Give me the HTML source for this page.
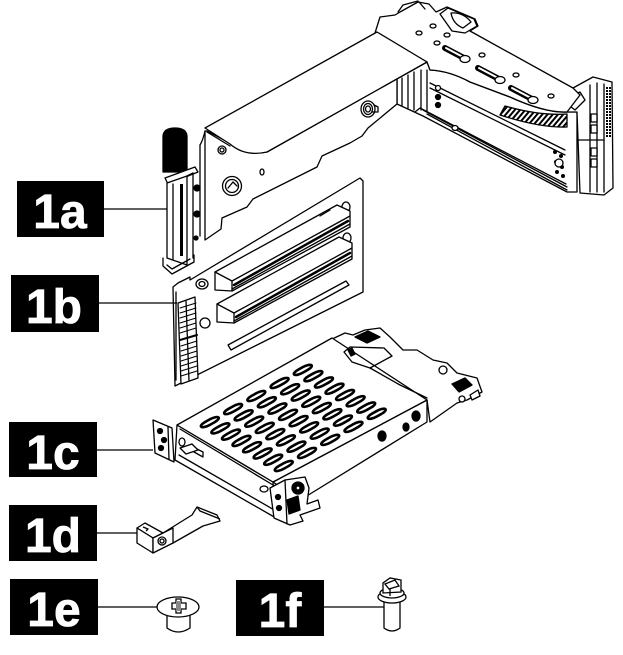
<!DOCTYPE html>
<html><head><meta charset="utf-8">
<style>
html,body{margin:0;padding:0;background:#fff;width:623px;height:655px;overflow:hidden;}
svg{display:block}
.lbl{font-family:"Liberation Sans",sans-serif;font-weight:bold;font-size:48px;fill:#fff;stroke:#fff;stroke-width:0.8px;}
</style></head><body>
<svg width="623" height="655" viewBox="0 0 623 655" xmlns="http://www.w3.org/2000/svg">
<defs>
<pattern id="hatch" width="4" height="4" patternUnits="userSpaceOnUse" patternTransform="rotate(40)">
<rect width="2" height="4" fill="#000"/>
</pattern>
<pattern id="dots" width="3" height="3" patternUnits="userSpaceOnUse">
<rect width="2" height="2" fill="#000"/>
</pattern>
</defs>

<!-- ================= RISER CAGE (1a) ================= -->
<g stroke="#000" stroke-width="1.3" fill="#fff" stroke-linejoin="round" stroke-linecap="round">
  <path d="M397,78 L427,62 L430,70 Q450,71 470,82 L510,97 Q545,113 567,112 L577,112 L577,192 L567,192 L423,116 L397,104 Z"/>
  <line x1="423" y1="110" x2="567" y2="187"/>
  <line x1="427" y1="114" x2="567" y2="190"/>
  <line x1="430" y1="83" x2="565" y2="150"/>
  <line x1="430" y1="88" x2="565" y2="155"/>
  <path d="M415,112 L420,108 L566,184" fill="none"/>
  <path d="M505,106 Q540,116 567,114 L567,127 Q540,128 500,115 Z" fill="url(#hatch)"/>
  <ellipse cx="455" cy="128" rx="3" ry="2.5"/>
  <line x1="402" y1="78" x2="402" y2="106"/>
  <line x1="408" y1="75" x2="408" y2="108"/>
  <line x1="414" y1="72" x2="414" y2="110"/>
  <line x1="421" y1="70" x2="421" y2="110"/>
  <line x1="427" y1="70" x2="427" y2="112"/>
  <circle cx="438" cy="88" r="2.5"/>
  <circle cx="438" cy="97" r="2.5" fill="#000"/>
  <circle cx="438" cy="105" r="2.5" fill="#000"/>

  <!-- right end bracket -->
  <path d="M560,95 L573,88 L593,77 L612,82 L613,188 L604,195 L580,193 L577,112 L566,112 Z"/>
  <line x1="590" y1="85" x2="590" y2="192"/>
  <line x1="597" y1="83" x2="597" y2="192"/>
  <line x1="604" y1="84" x2="604" y2="192"/>
  <rect x="605" y="86" width="7" height="52" fill="url(#dots)" stroke="none"/>
  <rect x="591" y="114" width="6" height="8" fill="#fff"/>
  <rect x="591" y="125" width="6" height="8" fill="#fff"/>
  <rect x="591" y="148" width="6" height="8" fill="#fff"/>
  <rect x="591" y="159" width="6" height="8" fill="#fff"/>
  <line x1="577" y1="140" x2="604" y2="140"/>
  <path d="M562,100 L580,92 L585,100 L575,110 Z"/>
  <g fill="#000" stroke="none">
    <circle cx="555" cy="152" r="2"/><circle cx="561" cy="156" r="2"/><circle cx="556" cy="162" r="2"/>
    <circle cx="562" cy="167" r="2"/><circle cx="557" cy="172" r="2"/><circle cx="563" cy="176" r="2"/>
  </g>
  <circle cx="559" cy="163" r="4" fill="#fff"/>

  <!-- left vertical panel -->
  <path d="M205,131 L205,240 L221,229 L222,218 L247,207 L253,199 L317,167 L322,156 L350,143 L362,136 L368,128 L397,104 L397,78 L427,62 L267,152 Q243,156 230,143 L207,131 Z"/>
  <line x1="200" y1="145" x2="200" y2="236"/>
  <path d="M200,145 Q203,140 205,131" fill="none"/>
  <ellipse cx="368" cy="109" rx="7" ry="8"/>
  <ellipse cx="368" cy="109" rx="4.5" ry="5.5"/>
  <ellipse cx="368" cy="109" rx="2.5" ry="3"/>
  <path d="M372,112 L378,112 L378,107 L374,105" fill="none"/>
  <circle cx="232" cy="186" r="9.5"/>
  <circle cx="232" cy="186" r="6.5"/>
  <path d="M228,188 L233,182 L237,186" fill="none"/>
  <ellipse cx="262" cy="172" rx="2" ry="3"/>
  <circle cx="222" cy="150" r="4"/>
  <circle cx="222" cy="150" r="2"/>

  <!-- T plate -->
  <path d="M375,33 L380,17 L395,15 L400,12 L418,2 L429,4 L436,12 L447,7 L475,19 L478,26 L470,31 L573,88 L580,95 L567,112 Q545,113 510,97 L470,82 Q450,71 430,70 L427,62 Z"/>
  <path d="M398,12 L403,5 L418,1" fill="none"/>
  <path d="M419,2 L425,9" fill="none"/>
  <path d="M440,14 L448,8 L474,19 L477,26 L465,33 L452,31 Z"/>
  <path d="M451,13 Q463,12 471,22 L463,28 Q453,24 451,13 Z"/>
  <g fill="none">
    <line x1="445" y1="48" x2="464" y2="58" stroke-width="6"/>
    <line x1="446" y1="48" x2="463" y2="57" stroke="#fff" stroke-width="2"/>
    <line x1="478" y1="68" x2="499" y2="79" stroke-width="6"/>
    <line x1="479" y1="68" x2="498" y2="78" stroke="#fff" stroke-width="2"/>
    <line x1="511" y1="88" x2="532" y2="99" stroke-width="6"/>
    <line x1="512" y1="88" x2="531" y2="98" stroke="#fff" stroke-width="2"/>
  </g>
  <ellipse cx="465" cy="59" rx="5" ry="3.5"/>
  <ellipse cx="500" cy="80" rx="5" ry="3.5"/>
  <ellipse cx="533" cy="100" rx="5" ry="3.5"/>
  <ellipse cx="419" cy="33" rx="3" ry="2"/>
  <ellipse cx="433" cy="26" rx="3" ry="2"/>
  <ellipse cx="447" cy="35" rx="3" ry="2"/>
  <ellipse cx="437" cy="43" rx="3" ry="2"/>
  <ellipse cx="482" cy="55" rx="3" ry="2"/>
  <ellipse cx="516" cy="75" rx="3" ry="2"/>
  <ellipse cx="551" cy="96" rx="3" ry="2"/>

  <!-- long top plate -->
  <path d="M205,128 L377,32 L427,62 L267,152 Q245,157 230,144 Z"/>
  <path d="M207,132 L230,146" fill="none"/>

  <!-- handle -->
  <path d="M163,172 L163,137 Q163,128 175,128 Q187,128 187,137 L187,172 Z" fill="#000"/>
  <path d="M165,178 L195,167 L198,172 L168,184 Z"/>
  <path d="M167,183 L167,258 L187,265 L187,176 Z"/>
  <line x1="173" y1="184" x2="173" y2="259"/>
  <rect x="180" y="184" width="3" height="72" fill="#000" stroke="none"/>
  <line x1="187" y1="176" x2="193" y2="173"/>
  <line x1="193" y1="173" x2="193" y2="258"/>
  <circle cx="197" cy="188" r="3" fill="#000"/>
  <circle cx="197" cy="214" r="3" fill="#000"/>
  <circle cx="196" cy="238" r="2" fill="#000"/>
  <path d="M163,258 L163,266 L172,274 L194,262 L194,255" fill="none"/>
  <path d="M167,265 L172,269 L190,259" fill="none"/>
</g>

<!-- ================= RISER CARD (1b) ================= -->
<g stroke="#000" stroke-width="1.3" fill="#fff" stroke-linejoin="round" stroke-linecap="round">
  <path d="M173,287 L178,283 L190,277 L190,280 L360,178 L363,181 L363,292 L175,386 Z"/>
  <path d="M176,292 L176,380" fill="none"/>
  <ellipse cx="202" cy="284" rx="6" ry="5"/>
  <ellipse cx="202" cy="284" rx="3" ry="2.5"/>
  <ellipse cx="205" cy="323" rx="5" ry="5"/>
  <ellipse cx="346" cy="207" rx="4" ry="5"/>
  <ellipse cx="347" cy="238" rx="4" ry="5"/>
  <path d="M215,272 L337,205 L350,211 L350,227 L232,291 L215,290 Z"/>
  <path d="M215,272 L232,281 L232,291" fill="none"/>
  <line x1="232" y1="281" x2="350" y2="216"/>
  <line x1="234" y1="285" x2="348" y2="221" stroke-width="2.5"/>
  <line x1="232" y1="289" x2="350" y2="224"/>
  <line x1="320" y1="216" x2="330" y2="210"/>
  <path d="M217,304 L339,237 L352,243 L352,259 L234,323 L217,322 Z"/>
  <path d="M217,304 L234,313 L234,323" fill="none"/>
  <line x1="234" y1="313" x2="352" y2="248"/>
  <line x1="236" y1="317" x2="350" y2="253" stroke-width="2.5"/>
  <line x1="234" y1="321" x2="352" y2="256"/>
  <path d="M228,345 L346,281 L349,285 L231,350 Z"/>
  <path d="M178,303 L195,297 L198,378 L181,384 Z"/>
  <line x1="186" y1="301" x2="189" y2="381"/>
  <g stroke-width="1">
    <line x1="180" y1="308" x2="196" y2="303"/><line x1="180" y1="313" x2="196" y2="308"/>
    <line x1="180" y1="318" x2="196" y2="313"/><line x1="180" y1="323" x2="196" y2="318"/>
    <line x1="180" y1="328" x2="196" y2="323"/><line x1="180" y1="333" x2="196" y2="328"/>
    <line x1="180" y1="340" x2="197" y2="335" stroke-width="2"/>
    <line x1="181" y1="346" x2="197" y2="341"/><line x1="181" y1="351" x2="197" y2="346"/>
    <line x1="181" y1="356" x2="197" y2="351"/><line x1="181" y1="361" x2="197" y2="356"/>
    <line x1="181" y1="366" x2="197" y2="361"/><line x1="181" y1="371" x2="197" y2="366"/>
    <line x1="181" y1="376" x2="197" y2="371"/>
  </g>
</g>

<!-- ================= DRIVE CAGE (1c) ================= -->
<g stroke="#000" stroke-width="1.3" fill="#fff" stroke-linejoin="round" stroke-linecap="round">
  <path d="M330,340 L345,333 L353,335 L365,330 L380,328 L390,337 L403,350 L417,350 L433,360 L447,363 L457,373 L477,378 L482,392 L467,400 L457,403 L430,422 L427,400 Z"/>
  <path d="M355,337 L368,331 L380,337 L367,343 Z" fill="#000"/>
  <circle cx="443" cy="370" r="4"/>
  <path d="M452,384 L465,378 L472,385 L459,392 Z" fill="#000"/>
  <circle cx="462" cy="399" r="3"/>
  <path d="M470,395 L478,390 L480,396 L472,400 Z"/>
  <path d="M273,482 L427,400 L427,422 L310,494 L300,500 Z"/>
  <ellipse cx="382" cy="436" rx="4" ry="5" fill="#000"/>
  <ellipse cx="406" cy="427" rx="3" ry="4" fill="#000"/>
  <ellipse cx="416" cy="416" rx="4" ry="5" fill="#000"/>
  <path d="M177,425 L273,482 L276,518 L175,460 Z"/>
  <line x1="179" y1="455" x2="276" y2="511"/>
  <ellipse cx="182" cy="442" rx="3" ry="4"/>
  <ellipse cx="264" cy="489" rx="4" ry="3"/>
  <path d="M193,447 L203,452 L203,457 L194,452 Z"/>
  <path d="M177,425 L332,338 L427,400 L273,482 Z"/>
  <line x1="180" y1="429" x2="273" y2="485"/>
  <!-- recessed box near back -->
  <path d="M344,352 L350,347 L384,348 L392,356 L370,368 L352,362 Z" fill="none"/>
  <path d="M370,368 L400,385 L427,398" fill="none"/>
  <path d="M348,350 L352,348 L355,354 L351,356 Z" fill="#000"/>
  <g transform="matrix(0.96,0.57,1.55,-0.87,177,425)" fill="#fff" stroke="#000">
    <g id="row">
      <rect x="11.5" y="7" width="5" height="11" rx="2.5" ry="4" stroke-width="2.6" vector-effect="non-scaling-stroke"/>
      <rect x="22.5" y="7" width="5" height="11" rx="2.5" ry="4" stroke-width="2.6" vector-effect="non-scaling-stroke"/>
      <rect x="33.5" y="7" width="5" height="11" rx="2.5" ry="4" stroke-width="2.6" vector-effect="non-scaling-stroke"/>
      <rect x="44.5" y="7" width="5" height="11" rx="2.5" ry="4" stroke-width="2.6" vector-effect="non-scaling-stroke"/>
      <rect x="55.5" y="7" width="5" height="11" rx="2.5" ry="4" stroke-width="2.6" vector-effect="non-scaling-stroke"/>
      <rect x="66.5" y="7" width="5" height="11" rx="2.5" ry="4" stroke-width="2.6" vector-effect="non-scaling-stroke"/>
      <rect x="77.5" y="7" width="5" height="11" rx="2.5" ry="4" stroke-width="2.6" vector-effect="non-scaling-stroke"/>
      <rect x="88.5" y="7" width="5" height="11" rx="2.5" ry="4" stroke-width="2.6" vector-effect="non-scaling-stroke"/>
    </g>
    <use href="#row" transform="translate(0,15)"/>
    <use href="#row" transform="translate(0,30)"/>
    <use href="#row" transform="translate(0,45)"/>
    <use href="#row" transform="translate(0,60)"/>
  </g>
  <path d="M153,420 L172,428 L174,462 L155,453 Z"/>
  <line x1="168" y1="427" x2="169" y2="459"/>
  <circle cx="160" cy="431" r="2.5" fill="#000"/>
  <circle cx="164" cy="440" r="2.5" fill="#000"/>
  <circle cx="161" cy="448" r="2.5" fill="#000"/>
  <path d="M180,448 L192,444 L198,450 L186,454 Z"/>
  <path d="M270,488 L285,480 L305,477 L309,488 L307,504 L318,500 L320,508 L300,515 L303,521 L290,525 L274,518 Z"/>
  <line x1="285" y1="480" x2="287" y2="524"/>
  <circle cx="298" cy="488" r="6" fill="#000"/>
  <circle cx="298" cy="488" r="2" fill="#fff"/>
  <circle cx="278" cy="497" r="2.5" fill="#000"/>
  <circle cx="279" cy="508" r="2.5" fill="#000"/>
  <path d="M287,500 L298,496 L300,510 L289,514 Z" fill="#000"/>
</g>

<!-- ================= CLIP (1d) ================= -->
<g stroke="#000" stroke-width="1.3" fill="#fff" stroke-linejoin="round">
  <path d="M163,533 L192,515 L197,507 L217,515 L220,521 L203,526 L173,543 Z"/>
  <path d="M197,507 L200,511 L220,519" fill="none"/>
  <path d="M137,528 L145,523 L163,533 L153,538 Z"/>
  <path d="M143,527 L148,529 L146,531" fill="none"/>
  <path d="M137,528 L137,543 L153,553 L153,538 Z"/>
  <path d="M153,538 L173,528 L173,543 L153,553 Z"/>
  <circle cx="162" cy="541" r="4"/>
  <circle cx="162" cy="541" r="2"/>
</g>

<!-- ================= SCREW (1e) ================= -->
<g stroke="#000" stroke-width="1.3" fill="#fff">
  <path d="M167,612 L167,628 Q178,636 190,628 L190,612 Z"/>
  <ellipse cx="178" cy="607" rx="21" ry="10"/>
  <path d="M172,603 L176,603 L176,599 L181,599 L181,603 L186,603 L186,609 L181,609 L181,613 L176,613 L176,609 L172,609 Z"/>
  <rect x="176" y="601" width="5" height="10" fill="#888" stroke="none"/>
</g>

<!-- ================= SCREW (1f) ================= -->
<g stroke="#000" stroke-width="1.3" fill="#fff">
  <path d="M384,600 L384,628 Q392,634 400,628 L400,600 Z"/>
  <ellipse cx="392" cy="597" rx="14" ry="6"/>
  <ellipse cx="392" cy="593" rx="12" ry="5"/>
  <path d="M383,593 L383,583 L390,578 L401,580 L401,592 Z"/>
  <path d="M385,584 L395,580 L399,586 L389,589 Z"/>
  <line x1="390" y1="589" x2="390" y2="596"/>
</g>

<!-- ================= LABELS ================= -->
<g stroke="#000" stroke-width="1.3">
  <line x1="104" y1="209" x2="167" y2="209"/>
  <line x1="99" y1="303" x2="177" y2="303"/>
  <line x1="97" y1="450" x2="153" y2="450"/>
  <line x1="97" y1="533" x2="137" y2="533"/>
  <line x1="98" y1="607" x2="157" y2="607"/>
  <line x1="324" y1="607" x2="384" y2="607"/>
</g>
<rect x="17" y="181" width="87" height="56" fill="#000"/>
<rect x="11" y="275" width="88" height="57" fill="#000"/>
<rect x="9" y="422" width="88" height="55" fill="#000"/>
<rect x="9" y="505" width="88" height="56" fill="#000"/>
<rect x="10" y="579" width="88" height="56" fill="#000"/>
<rect x="236" y="580" width="88" height="56" fill="#000"/>
<text class="lbl" x="60" y="228" text-anchor="middle">1a</text>
<text class="lbl" x="54" y="323" text-anchor="middle">1b</text>
<text class="lbl" x="53" y="469" text-anchor="middle">1c</text>
<text class="lbl" x="53" y="552" text-anchor="middle">1d</text>
<text class="lbl" x="54" y="626" text-anchor="middle">1e</text>
<text class="lbl" x="280" y="627" text-anchor="middle">1f</text>
</svg>
</body></html>
